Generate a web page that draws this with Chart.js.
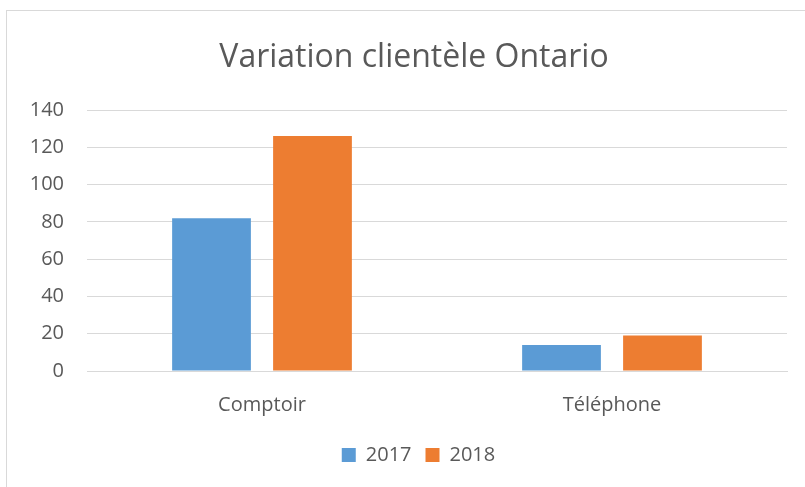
<!DOCTYPE html>
<html>
<head>
<meta charset="utf-8">
<script src="https://cdn.jsdelivr.net/npm/chart.js@4"></script>
<style>
  html, body { margin: 0; padding: 0; background: #fff; }
  #wrap { position: relative; width: 805px; height: 487px; overflow: hidden; }
  #frame { position: absolute; left: 6px; top: 10px; width: 820px; height: 500px; border: 1px solid #d9d9d9; box-sizing: border-box; }
  #title { position: absolute; left: 6px; top: 36px; width: 816px; text-align: center;
           font: 32px/38px "Open Sans", "Liberation Sans", sans-serif; color: #595959; white-space: nowrap; }
  canvas { position: absolute; left: 0; top: 0; }
</style>
</head>
<body>
<div id="wrap">
  <div id="frame"></div>
  <canvas id="chart" width="805" height="487"></canvas>
  <div id="title">Variation clientèle Ontario</div>
</div>
<script>
// Data
const categories = ['Comptoir', 'Téléphone'];
const values2017 = [82, 14];
const values2018 = [126, 19];
const yTicks = [0, 20, 40, 60, 80, 100, 120, 140];

const textColor = '#595959';
const fontFamily = '"Open Sans", "Liberation Sans", sans-serif';

// legend in the picture is centred on the whole frame, not the plot
const shiftLegend = {
    id: 'shiftLegend',
    afterLayout(chart) {
        chart.legend.left += 25;
        chart.legend.right += 25;
    }
};

const ctx = document.getElementById('chart').getContext('2d');
new Chart(ctx, {
    type: 'bar',
    data: {
        labels: categories,
        datasets: [{
            label: '2017',
            data: values2017,
            backgroundColor: '#5B9BD5',
            barPercentage: 0.78,
            categoryPercentage: 0.577
        }, {
            label: '2018',
            data: values2018,
            backgroundColor: '#ED7D31',
            barPercentage: 0.78,
            categoryPercentage: 0.577
        }]
    },
    options: {
        responsive: false,
        animation: false,
        layout: { padding: { top: 110, right: 18, bottom: 12, left: 0 } },
        plugins: {
            title: { display: false },
            legend: {
                position: 'bottom',
                labels: {
                    color: textColor,
                    font: { family: fontFamily, size: 20 },
                    boxWidth: 14,
                    boxHeight: 14,
                    padding: 14
                }
            },
            tooltip: { enabled: false }
        },
        scales: {
            x: {
                grid: { display: false },
                border: { color: '#d9d9d9', width: 1 },
                ticks: { color: textColor, font: { family: fontFamily, size: 20 }, padding: 14 },
                afterFit: (scale) => { scale.height = 60; }
            },
            y: {
                min: 0,
                max: 140,
                afterBuildTicks: (scale) => { scale.ticks = yTicks.map(v => ({ value: v })); },
                grid: { color: '#d9d9d9', lineWidth: 1, drawTicks: false },
                border: { display: false },
                ticks: { color: textColor, font: { family: fontFamily, size: 20 }, padding: 23 },
                afterFit: (scale) => { scale.width = 87; }
            }
        }
    },
    plugins: [shiftLegend]
});
</script>
</body>
</html>
